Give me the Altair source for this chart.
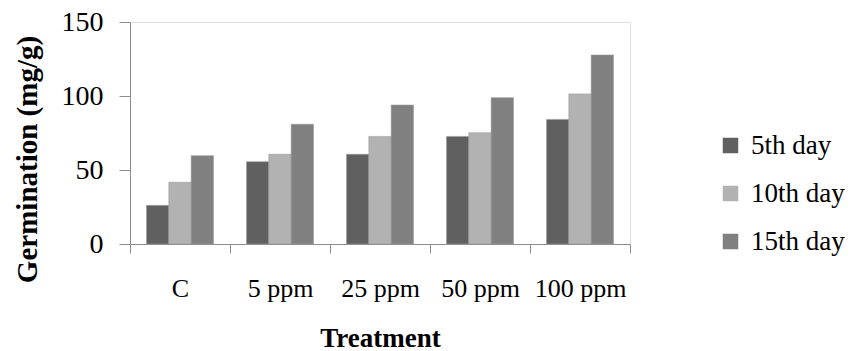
import altair as alt
import pandas as pd

treatments = ["C", "5 ppm", "25 ppm", "50 ppm", "100 ppm"]
series = ["5th day", "10th day", "15th day"]
day5 = [26.1, 55.6, 60.6, 72.7, 84.2]
day10 = [41.7, 60.6, 72.7, 75.2, 101.4]
day15 = [59.7, 80.9, 93.9, 98.9, 127.7]
colors = ["#606060", "#b2b2b2", "#808080"]

rows = []
for i, t in enumerate(treatments):
    for s, vals in zip(series, [day5, day10, day15]):
        rows.append({"Treatment": t, "Series": s, "Value": vals[i]})
df = pd.DataFrame(rows)

FONT = "Liberation Serif"
AX = "#8c8c8c"

chart = alt.Chart(df).mark_bar(stroke="#9a9a9a", strokeWidth=0.6).encode(
    x=alt.X("Treatment:N", sort=treatments,
            scale=alt.Scale(paddingInner=0, paddingOuter=0),
            axis=alt.Axis(title="Treatment", labelAngle=0, tickBand="extent",
                          domainColor=AX, tickColor=AX, tickSize=9,
                          labelFont=FONT, labelFontSize=26, labelColor="#000000",
                          labelPadding=22,
                          titleFont=FONT, titleFontSize=27, titleFontWeight="bold",
                          titleColor="#000000", titleY=102, titleBaseline="alphabetic")),
    xOffset=alt.XOffset("Series:N", sort=series,
                        scale=alt.Scale(paddingInner=0, paddingOuter=0.74)),
    y=alt.Y("Value:Q",
            scale=alt.Scale(domain=[0, 150], nice=False),
            axis=alt.Axis(title="Germination (mg/g)", values=[0, 50, 100, 150],
                          grid=False, domainColor=AX, tickColor=AX, tickSize=11,
                          labelFont=FONT, labelFontSize=28, labelColor="#000000",
                          labelPadding=16,
                          titleFont=FONT, titleFontSize=29, titleFontWeight="bold",
                          titleColor="#000000", titleX=-103, titleY=137,
                          titleBaseline="middle", titleAngle=270)),
    color=alt.Color("Series:N", sort=series,
                    scale=alt.Scale(domain=series, range=colors),
                    legend=alt.Legend(title=None, orient="none", legendX=587, legendY=110,
                                      padding=0,
                                      symbolType="square", symbolSize=240,
                                      symbolStrokeWidth=0,
                                      labelFont=FONT, labelFontSize=27,
                                      labelColor="#000000", labelOffset=7,
                                      rowPadding=20)),
).properties(
    width=500, height=222,
    autosize=alt.AutoSizeParams(type="none"),
    padding={"left": 130, "top": 22, "right": 225, "bottom": 107},
).configure_view(strokeWidth=0).configure(background="#ffffff")

chart.save("out.html", embed_options={"renderer": "svg", "actions": False})
